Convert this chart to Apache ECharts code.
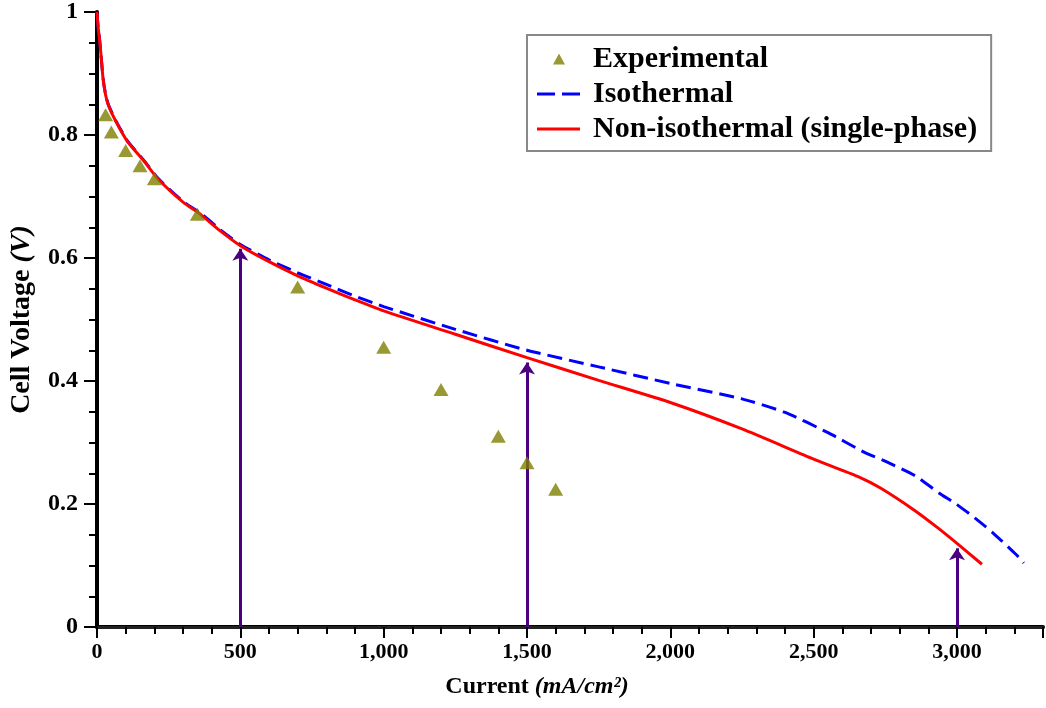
<!DOCTYPE html>
<html><head><meta charset="utf-8">
<script src="https://cdn.jsdelivr.net/npm/echarts@6/dist/echarts.min.js"></script>
<style>html,body{margin:0;padding:0;background:#fff}#c{width:1046px;height:708px}</style>
</head><body><div id="c"></div>
<script>
const expData = [[30,0.833],[50,0.805],[100,0.775],[150,0.750],[200,0.729],[350,0.671],[700,0.553],[1000,0.455],[1200,0.386],[1400,0.310],[1500,0.267],[1600,0.224]];
const isoData = [[0,1.0],[4,0.975],[9,0.955],[14,0.93],[21,0.893],[30,0.866],[40,0.849],[66,0.823],[107,0.790],[165,0.758],[212,0.730],[300,0.692],[361,0.673],[430,0.646],[500,0.622],[600,0.597],[700,0.576],[800,0.557],[900,0.538],[1000,0.521],[1250,0.484],[1500,0.450],[1750,0.423],[2000,0.396],[2250,0.371],[2400,0.349],[2550,0.316],[2677,0.284],[2757,0.268],[2854,0.246],[2937,0.218],[3000,0.199],[3063,0.177],[3128,0.152],[3208,0.117],[3233,0.104]];
const nonIsoData = [[0,1.0],[4,0.975],[9,0.955],[14,0.93],[21,0.892],[30,0.865],[40,0.848],[66,0.822],[107,0.789],[165,0.757],[212,0.729],[300,0.691],[361,0.671],[430,0.644],[500,0.620],[600,0.594],[700,0.571],[800,0.551],[900,0.532],[1000,0.514],[1250,0.476],[1500,0.438],[1750,0.401],[2000,0.365],[2250,0.322],[2500,0.273],[2653,0.245],[2733,0.226],[2851,0.190],[2931,0.162],[3000,0.136],[3087,0.102]];
const arrowX = [500,1500,3000];
const arrowTop = [0.615,0.43,0.128];
const xTicks = [0,500,1000,1500,2000,2500,3000];
const yTicks = [0,0.2,0.4,0.6,0.8,1];

const serif = 'Liberation Serif';
const triIcon = 'path://M0,7L0.01,7L0.01,7.01Z M43,7L43.01,7L43.01,7.01Z M16,12L22,1L28,12Z';
const dashIcon = 'path://M0,0h18v3h-18z M25,0h18v3h-18z';
const solidIcon = 'path://M0,0h43v3h-43z';
const chart = echarts.init(document.getElementById('c'));
chart.setOption({
  animation:false,
  grid:{left:97,right:0,top:10,bottom:81,containLabel:false},
  legend:{
    left:527, top:35, orient:'vertical', itemWidth:43, itemHeight:14, itemGap:5,
    padding:[9,14,7,10],
    borderColor:'#888', borderWidth:2,
    textStyle:{fontFamily:serif,fontWeight:'bold',fontSize:30,color:'#000',padding:[0,0,0,8]},
    data:[
      {name:'Experimental',icon:triIcon,itemStyle:{color:'#808000'}},
      {name:'Isothermal',icon:dashIcon,itemStyle:{color:'#0000ff'}},
      {name:'Non-isothermal (single-phase)',icon:solidIcon,itemStyle:{color:'#ff0000'}}
    ]
  },
  xAxis:[{
    type:'value', min:0, max:3300, interval:500,
    axisLine:{onZero:false,lineStyle:{color:'#000',width:4}},
    axisTick:{length:11,lineStyle:{color:'#000',width:2}},
    minorTick:{show:true,splitNumber:5,length:7,lineStyle:{color:'#000',width:2}},
    splitLine:{show:false},
    axisLabel:{margin:14,fontFamily:serif,fontWeight:'bold',fontSize:22,color:'#000',
      formatter:v=> xTicks.includes(v)? v.toLocaleString('en-US'):''},
    name:'{a|Current }{b|(mA/cm²)}', nameLocation:'middle', nameGap:48,
    nameTextStyle:{padding:[0,66,0,0],rich:{a:{fontFamily:serif,fontWeight:'bold',fontSize:24,color:'#000'},b:{fontFamily:serif,fontWeight:'bold',fontStyle:'italic',fontSize:24,color:'#000'}}}
  },{
    type:'value', position:'top', min:0, max:3300,
    axisLine:{show:true,lineStyle:{color:'#222',width:3}},
    axisTick:{show:false}, axisLabel:{show:false}, splitLine:{show:false}
  }],
  yAxis:{
    type:'value', min:0, max:1, interval:0.2,
    axisLine:{show:true,onZero:false,lineStyle:{color:'#000',width:4}},
    axisTick:{show:true,length:13,lineStyle:{color:'#000',width:2}},
    minorTick:{show:true,splitNumber:4,length:8,lineStyle:{color:'#000',width:2}},
    splitLine:{show:false},
    axisLabel:{margin:19,fontFamily:serif,fontWeight:'bold',fontSize:24,color:'#000',
      formatter:v=> yTicks.some(t=>Math.abs(t-v)<1e-9)? String(Math.round(v*10)/10):''},
    name:'{a|Cell Voltage }{b|(V)}', nameLocation:'middle', nameGap:61,
    nameTextStyle:{rich:{a:{fontFamily:serif,fontWeight:'bold',fontSize:28,color:'#000'},b:{fontFamily:serif,fontWeight:'bold',fontStyle:'italic',fontSize:28,color:'#000'}}}
  },
  series:[
    {name:'Experimental',type:'scatter',data:expData,symbol:'triangle',symbolSize:[15,13],
     itemStyle:{color:'#808000'},z:5},
    {name:'Isothermal',type:'line',data:isoData,symbol:'none',smooth:0.2,
     lineStyle:{color:'#0000ff',width:3,type:[15,7]},itemStyle:{color:'#0000ff'},z:3},
    {name:'Non-isothermal (single-phase)',type:'line',data:nonIsoData,symbol:'none',smooth:0.2,
     lineStyle:{color:'#ff0000',width:3},itemStyle:{color:'#ff0000'},z:4,
     markLine:{silent:true,symbol:['none','arrow'],symbolSize:[12,12],animation:false,
       label:{show:false},lineStyle:{color:'#4b0082',width:3,type:'solid'},
       emphasis:{disabled:true},
       data:arrowX.map((x,i)=>[{coord:[x,0]},{coord:[x,arrowTop[i]]}])}}
  ]
});
</script></body></html>
